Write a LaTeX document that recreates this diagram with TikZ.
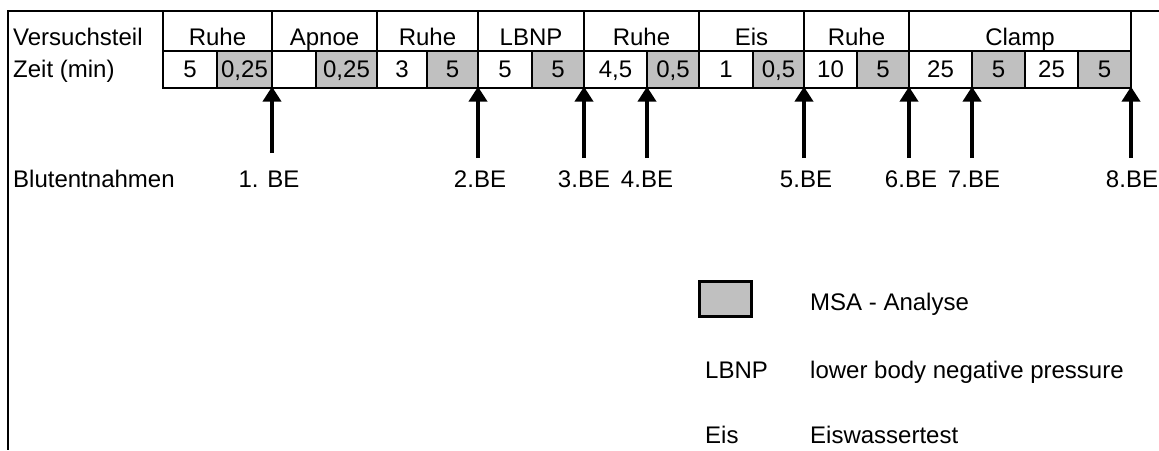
\documentclass[tikz,border=0pt]{standalone}
\usepackage{fontspec}
\setmainfont{Liberation Sans}
\usetikzlibrary{arrows.meta}
\definecolor{msagray}{RGB}{192,192,192}
\begin{document}
\begin{tikzpicture}[x=1pt,y=-1pt,
  every node/.style={font=\fontsize{24}{28}\selectfont, inner sep=0pt},
  cell/.style={draw, line width=2.8pt, rectangle, anchor=north west, outer sep=0pt},
  rowa/.style={cell, minimum height=40pt, text height=34pt, text depth=6pt},
  rowb/.style={cell, minimum height=37pt, text height=26pt, text depth=11pt},
  gr/.style={fill=msagray},
  txt/.style={anchor=base west},
  belabel/.style={anchor=base},
  bearrow/.style={line width=4pt, -{Triangle[width=18pt,length=15pt]}}
]
\useasboundingbox (0,0) rectangle (1159,450);
% frame
\coordinate (fr) at (1159,11);
\coordinate (fc) at (8,11);
\coordinate (fb) at (8,450);
\draw[line width=2.5pt] (fr) -- (fc) -- (fb);

% row labels
\node[txt] (lv) at (13,45) {Versuchsteil};
\node[txt] (lz) at (13,77) {Zeit (min)};
\node[txt] (lb) at (13,187) {Blutentnahmen};

% header row
\node[rowa, minimum width=109pt] (h1) at (163,11) {Ruhe};
\node[rowa, minimum width=105pt] (h2) at (272,11) {Apnoe};
\node[rowa, minimum width=101pt] (h3) at (377,11) {Ruhe};
\node[rowa, minimum width=106pt] (h4) at (478,11) {LBNP};
\node[rowa, minimum width=115pt] (h5) at (584,11) {Ruhe};
\node[rowa, minimum width=105pt] (h6) at (699,11) {Eis};
\node[rowa, minimum width=105pt] (h7) at (804,11) {Ruhe};
\node[rowa, minimum width=222pt] (h8) at (909,11) {Clamp};

% time row
\node[rowb, minimum width=54pt] (z1) at (163,51) {5};
\node[rowb, gr, minimum width=55pt] (z2) at (217,51) {0,25};
\node[rowb, minimum width=44pt] (z3) at (272,51) {};
\node[rowb, gr, minimum width=61pt] (z4) at (316,51) {0,25};
\node[rowb, minimum width=50pt] (z5) at (377,51) {3};
\node[rowb, gr, minimum width=51pt] (z6) at (427,51) {5};
\node[rowb, minimum width=54pt] (z7) at (478,51) {5};
\node[rowb, gr, minimum width=52pt] (z8) at (532,51) {5};
\node[rowb, minimum width=63pt] (z9) at (584,51) {4,5};
\node[rowb, gr, minimum width=52pt] (z10) at (647,51) {0,5};
\node[rowb, minimum width=54pt] (z11) at (699,51) {1};
\node[rowb, gr, minimum width=51pt] (z12) at (753,51) {0,5};
\node[rowb, minimum width=53pt] (z13) at (804,51) {10};
\node[rowb, gr, minimum width=52pt] (z14) at (857,51) {5};
\node[rowb, minimum width=63pt] (z15) at (909,51) {25};
\node[rowb, gr, minimum width=53pt] (z16) at (972,51) {5};
\node[rowb, minimum width=53pt] (z17) at (1025,51) {25};
\node[rowb, gr, minimum width=53pt] (z18) at (1078,51) {5};

% arrow tails (x taken from the cell corners)
\coordinate (t1) at (0,153);
\coordinate (t2) at (0,158);

\draw[bearrow] (t1 -| z2.south east) -- ([yshift=1.4pt]z2.south east);
\draw[bearrow] (t2 -| z6.south east) -- ([yshift=1.4pt]z6.south east);
\draw[bearrow] (t2 -| z8.south east) -- ([yshift=1.4pt]z8.south east);
\draw[bearrow] (t2 -| z9.south east) -- ([yshift=1.4pt]z9.south east);
\draw[bearrow] (t2 -| z12.south east) -- ([yshift=1.4pt]z12.south east);
\draw[bearrow] (t2 -| z14.south east) -- ([yshift=1.4pt]z14.south east);
\draw[bearrow] (t2 -| z15.south east) -- ([yshift=1.4pt]z15.south east);
\draw[bearrow] (t2 -| z18.south east) -- ([yshift=1.4pt]z18.south east);

% labels
\node[belabel] (be1) at (269,187) {1. BE};
\node[belabel] (be2) at (480,187) {2.BE};
\node[belabel] (be3) at (584,187) {3.BE};
\node[belabel] (be4) at (647,187) {4.BE};
\node[belabel] (be5) at (806,187) {5.BE};
\node[belabel] (be6) at (911,187) {6.BE};
\node[belabel] (be7) at (974,187) {7.BE};
\node[belabel] (be8) at (1132,187) {8.BE};

% legend
\node[draw, line width=3pt, fill=msagray, minimum width=52pt, minimum height=35pt, anchor=north west, outer sep=0pt] (lg) at (699.5,281.5) {};
\node[txt] (lgt) at (810,310) {MSA - Analyse};
\node[txt] (lk1) at (705,378) {LBNP};
\node[txt] (lt1) at (810,378) {lower body negative pressure};
\node[txt] (lk2) at (705,443) {Eis};
\node[txt] (lt2) at (810,443) {Eiswassertest};
\end{tikzpicture}
\end{document}
